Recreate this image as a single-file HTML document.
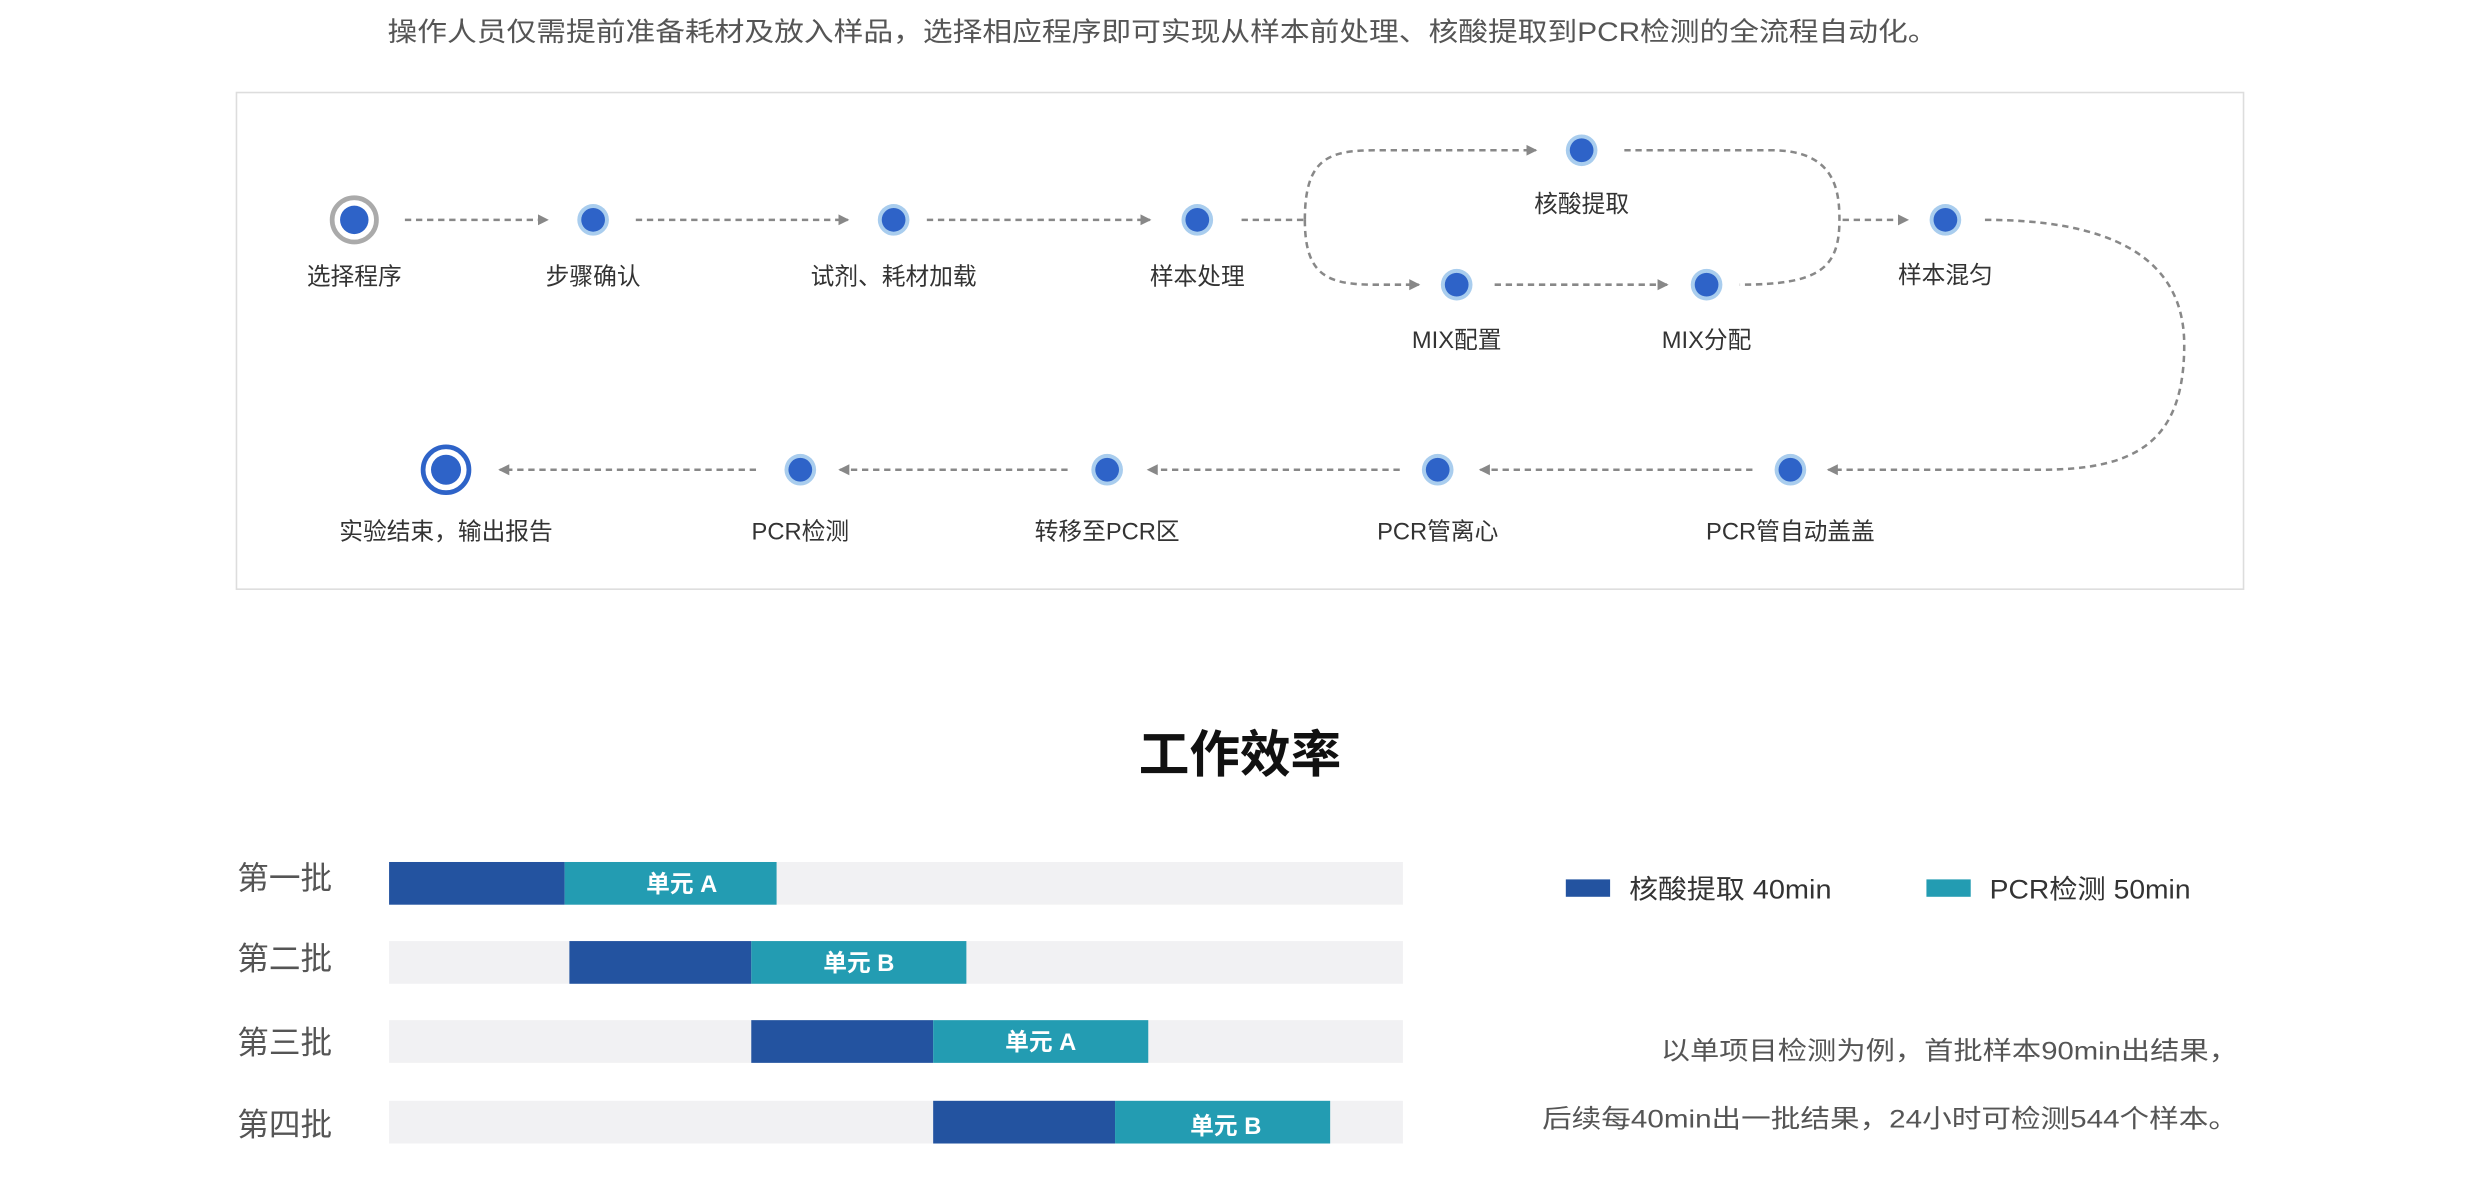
<!DOCTYPE html>
<html><head><meta charset="utf-8"><style>
html,body{margin:0;padding:0;background:#fff;}
svg{display:block;}
text{font-family:"Liberation Sans","Noto Sans CJK SC",sans-serif;}
</style></head><body>
<svg width="2480" height="1178" viewBox="0 0 1568 744.8" xmlns="http://www.w3.org/2000/svg">
<defs>
<marker id="ar" markerWidth="8" markerHeight="8" refX="6" refY="4" orient="auto" markerUnits="userSpaceOnUse"><path d="M0,0.5 L7,4 L0,7.5 z" fill="#888"/></marker>
<g id="nd"><circle r="10" fill="#a9cdee"/><circle r="7.5" fill="#2e63c8"/></g>
</defs>
<text x="245" y="26" font-size="17" fill="#555" textLength="980" lengthAdjust="spacingAndGlyphs">操作人员仅需提前准备耗材及放入样品，选择相应程序即可实现从样本前处理、核酸提取到PCR检测的全流程自动化。</text>
<rect x="149.5" y="58.5" width="1269" height="314" fill="#fff" stroke="#ddd" stroke-width="1"/>
<g stroke="#888" stroke-width="1.6" stroke-dasharray="4,3" fill="none" marker-end="url(#ar)">
<line x1="256" y1="139" x2="346" y2="139"/>
<line x1="402" y1="139" x2="536" y2="139"/>
<line x1="586" y1="139" x2="727" y2="139"/>
<path d="M825,139 C825,100 840,95 870,95 L971,95"/>
<path d="M825,139 C825,175 840,180 870,180 L897,180"/>
<line x1="945" y1="180" x2="1054" y2="180"/>
<path d="M1027,95 L1120,95 C1160,95 1163,120 1163,139 C1163,170 1150,180 1100,180" marker-end="none"/>
<line x1="1165" y1="139" x2="1206" y2="139"/>
<path d="M1255,139 C1330,139 1381,160 1381,218 C1381,280 1350,297 1290,297 L1156,297"/>
<line x1="1108" y1="297" x2="936" y2="297"/>
<line x1="885" y1="297" x2="726" y2="297"/>
<line x1="675" y1="297" x2="531" y2="297"/>
<line x1="478" y1="297" x2="316" y2="297"/>
</g>
<line x1="785" y1="139" x2="825" y2="139" stroke="#888" stroke-width="1.6" stroke-dasharray="4,3"/>
<circle cx="224" cy="139" r="14" fill="#fff" stroke="#aaa" stroke-width="3"/><circle cx="224" cy="139" r="9" fill="#2e63c8"/>
<use href="#nd" x="375" y="139"/><use href="#nd" x="565" y="139"/><use href="#nd" x="757" y="139"/>
<use href="#nd" x="1000" y="95"/><use href="#nd" x="921" y="180"/><use href="#nd" x="1079" y="180"/><use href="#nd" x="1230" y="139"/>
<use href="#nd" x="506" y="297"/><use href="#nd" x="700" y="297"/><use href="#nd" x="909" y="297"/><use href="#nd" x="1132" y="297"/>
<circle cx="282" cy="297" r="14.5" fill="#fff" stroke="#2e63c8" stroke-width="3"/><circle cx="282" cy="297" r="9.5" fill="#2e63c8"/>
<g font-size="15" fill="#333" text-anchor="middle">
<text x="224" y="180">选择程序</text><text x="375" y="180">步骤确认</text><text x="565" y="180">试剂、耗材加载</text><text x="757" y="180">样本处理</text>
<text x="1000" y="134">核酸提取</text><text x="921" y="220">MIX配置</text><text x="1079" y="220">MIX分配</text><text x="1230" y="179">样本混匀</text>
<text x="282" y="341">实验结束，输出报告</text><text x="506" y="341">PCR检测</text><text x="700" y="341">转移至PCR区</text><text x="909" y="341">PCR管离心</text><text x="1132" y="341">PCR管自动盖盖</text>
</g>
<text x="784" y="488" text-anchor="middle" font-size="32" font-weight="bold" fill="#111">工作效率</text>
<g font-size="20" fill="#555">
<text x="150" y="562">第一批</text><text x="150" y="613">第二批</text><text x="150" y="666">第三批</text><text x="150" y="718">第四批</text>
</g>
<g fill="#f1f1f3"><rect x="246" y="545" width="641" height="27"/><rect x="246" y="595" width="641" height="27"/><rect x="246" y="645" width="641" height="27"/><rect x="246" y="696" width="641" height="27"/></g>
<g fill="#2353a0"><rect x="246" y="545" width="111" height="27"/><rect x="360" y="595" width="115" height="27"/><rect x="475" y="645" width="115" height="27"/><rect x="590" y="696" width="115" height="27"/></g>
<g fill="#239cb2"><rect x="357" y="545" width="134" height="27"/><rect x="475" y="595" width="136" height="27"/><rect x="590" y="645" width="136" height="27"/><rect x="705" y="696" width="136" height="27"/></g>
<g font-size="15" font-weight="bold" fill="#fff" text-anchor="middle">
<text x="431" y="564">单元 A</text><text x="543" y="614">单元 B</text><text x="658" y="664">单元 A</text><text x="775" y="717">单元 B</text>
</g>
<rect x="990" y="556" width="28" height="11" fill="#2353a0"/><text x="1030" y="568" font-size="17" fill="#333" textLength="128" lengthAdjust="spacingAndGlyphs">核酸提取 40min</text>
<rect x="1218" y="556" width="28" height="11" fill="#239cb2"/><text x="1258" y="568" font-size="17" fill="#333" textLength="127" lengthAdjust="spacingAndGlyphs">PCR检测 50min</text>
<g font-size="16" fill="#555">
<text x="1050" y="670" textLength="365" lengthAdjust="spacingAndGlyphs">以单项目检测为例，首批样本90min出结果，</text>
<text x="975" y="713" textLength="440" lengthAdjust="spacingAndGlyphs">后续每40min出一批结果，24小时可检测544个样本。</text>
</g>
</svg>
</body></html>
